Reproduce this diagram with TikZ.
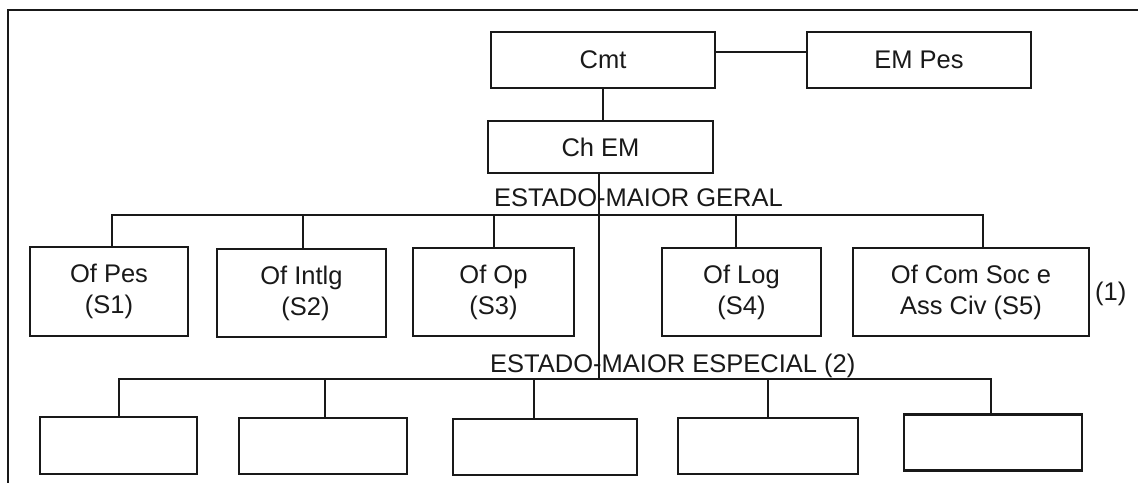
\documentclass[tikz,border=0pt]{standalone}
\usepackage{fontspec}
\setmainfont{Liberation Sans}
\begin{document}
\begin{tikzpicture}[x=1pt,y=-1pt,
  line width=2.4pt,
  box/.style={draw=black!90, rectangle, inner sep=0pt, outer sep=0pt, align=center,
    font=\fontsize{25.5}{31}\selectfont, text=black!90},
  label/.style={inner sep=0pt, font=\fontsize{25.5}{31}\selectfont, text=black!90},
  wire/.style={draw=black!90, line width=2.4pt}]
  % page area
  \fill[white] (0,0) rectangle (1138,483);
  \useasboundingbox (0,0) rectangle (1138,483);
  % open frame: top and left edges
  \draw[black!90, line width=2.4pt] (1138,10) -- (8,10) -- (8,483);

  % command group
  \node[box, minimum width=224pt, minimum height=56pt] (cmt)   at (603,60)    {Cmt};
  \node[box, minimum width=224pt, minimum height=56pt] (empes) at (919,60)    {EM Pes};
  \node[box, minimum width=225pt, minimum height=52pt] (chem)  at (600.5,147) {Ch EM};

  % general staff
  \node[box, minimum width=158pt, minimum height=89pt] (ofpes)   at (109,291.5)  {Of Pes\\(S1)};
  \node[box, minimum width=169pt, minimum height=88pt] (ofintlg) at (301.5,293)  {Of Intlg\\\hspace*{8pt}(S2)};
  \node[box, minimum width=161pt, minimum height=88pt] (ofop)    at (493.5,292)  {Of Op\\(S3)};
  \node[box, minimum width=159pt, minimum height=88pt] (oflog)   at (741.5,292)  {Of Log\\(S4)};
  \node[box, minimum width=236pt, minimum height=88pt] (ofcom)   at (971,292)    {Of Com Soc e\\Ass Civ (S5)};
  \node[label, anchor=base west] (n1) at (1094,300) {(1)};

  % special staff
  \node[box, minimum width=157pt, minimum height=57pt] (sp1) at (118.5,445.5) {};
  \node[box, minimum width=168pt, minimum height=56pt] (sp2) at (323,446)     {};
  \node[box, minimum width=184pt, minimum height=56pt] (sp3) at (545,447)     {};
  \node[box, minimum width=180pt, minimum height=56pt] (sp4) at (768,446)     {};
  \node[box, minimum width=178pt, minimum height=56pt] (sp5) at (993,442.5)   {};

  % group titles
  \node[label, anchor=base west] (tger) at (493,206) {ESTADO-MAIOR GERAL};
  \node[label, anchor=base west] (tesp) at (489,372) {ESTADO-MAIOR ESPECIAL (2)};

  % bus coordinates
  \coordinate (g1) at (112,215);
  \coordinate (g2) at (303,215);
  \coordinate (g3) at (494,215);
  \coordinate (g4) at (736,215);
  \coordinate (g5) at (983,215);
  \coordinate (s1) at (119,379);
  \coordinate (s2) at (325,379);
  \coordinate (s3) at (534,379);
  \coordinate (s4) at (768,379);
  \coordinate (s5) at (991,379);

  % command links
  \draw[wire] ([yshift=8pt]cmt.east) -- ([yshift=8pt]empes.west);
  \draw[wire] (cmt.south) -- (cmt.south |- chem.north);
  \draw[wire] ([xshift=-1.5pt]chem.south) -- ([xshift=-1.5pt]chem.south |- s1);

  % general staff bus
  \draw[wire, line cap=rect] (g1) -- (g5);
  \draw[wire] (g1) -- (g1 |- ofpes.north);
  \draw[wire] (g2) -- (g2 |- ofintlg.north);
  \draw[wire] (g3) -- (g3 |- ofop.north);
  \draw[wire] (g4) -- (g4 |- oflog.north);
  \draw[wire] (g5) -- (g5 |- ofcom.north);

  % special staff bus
  \draw[wire, line cap=rect] (s1) -- (s5);
  \draw[wire] (s1) -- (s1 |- sp1.north);
  \draw[wire] (s2) -- (s2 |- sp2.north);
  \draw[wire] (s3) -- (s3 |- sp3.north);
  \draw[wire] (s4) -- (s4 |- sp4.north);
  \draw[wire] (s5) -- (s5 |- sp5.north);
\end{tikzpicture}
\end{document}
